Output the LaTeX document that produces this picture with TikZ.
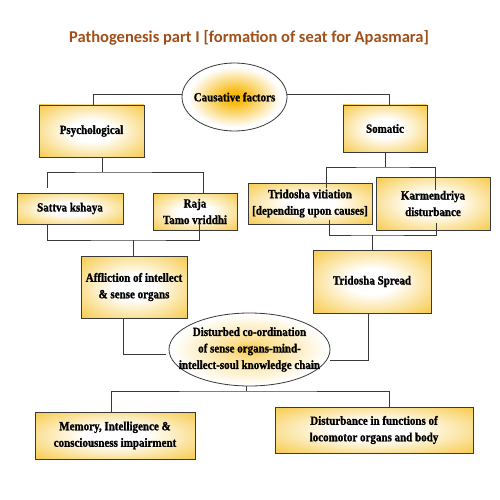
\documentclass[tikz,border=0pt]{standalone}
\usepackage{fontspec}
\setmainfont{Liberation Serif}
\newfontfamily\boxfont{Liberation Serif}[FakeStretch=0.88,FakeBold=1.2]
\newfontfamily\titlefont{Carlito}
\usetikzlibrary{calc,shapes.geometric}
\definecolor{boxgold}{HTML}{F6C12A}
\definecolor{ellgold}{HTML}{F7B500}
\definecolor{titlecol}{HTML}{A2501A}
\definecolor{linecol}{HTML}{3A3A3A}
\pgfdeclareradialshading{boxshade}{\pgfpoint{0bp}{0bp}}{color(0bp)=(white); color(10bp)=(white); color(40bp)=(boxgold); color(50bp)=(boxgold)}
\pgfdeclareradialshading{causeshade}{\pgfpoint{0bp}{0bp}}{color(0bp)=(ellgold); color(5bp)=(ellgold!90!white); color(22bp)=(white); color(50bp)=(white)}
\pgfdeclareradialshading{distshade}{\pgfpoint{0bp}{0bp}}{color(0bp)=(ellgold!75!white); color(6bp)=(ellgold!45!white); color(24bp)=(white); color(50bp)=(white)}
\begin{document}
\begin{tikzpicture}[x=1pt,y=-1pt,
  txt/.style={font=\boxfont\fontsize{12.5}{16.5}\selectfont\bfseries, align=center},
  box/.style={txt, draw=linecol, line width=0.8pt, shade, shading=boxshade, rectangle, inner sep=0pt},
  ell/.style={draw=linecol, line width=0.8pt, ellipse, inner sep=0pt, shade},
  conn/.style={draw=linecol, line width=0.8pt}]
\useasboundingbox (0,0) rectangle (500,500);
\fill[white] (0,0) rectangle (500,500);
\node[font=\titlefont\fontsize{16.5}{20}\selectfont\bfseries, text=titlecol] (title) at (249,38) {Pathogenesis part I [formation of seat for Apasmara]};
% ellipses
\node[ell, shading=causeshade, minimum width=105pt, minimum height=68pt] (cause) at (234.5,97) {};
\node[txt] (causetxt) at (cause) {Causative factors};
\node[ell, shading=distshade, minimum width=161pt, minimum height=73pt] (dist) at (249.5,349.5) {};
\node[txt] (disttxt) at (dist) {Disturbed co-ordination\\of sense organs-mind-\\intellect-soul knowledge chain};
% boxes
\node[box, minimum width=105pt, minimum height=52pt] (psych) at (91.5,131) {Psychological};
\node[box, minimum width=84pt, minimum height=47pt] (somatic) at (385,128.5) {Somatic};
\node[box, minimum width=106pt, minimum height=31pt] (sattva) at (70,208.5) {Sattva kshaya};
\node[box, minimum width=84pt, minimum height=37pt] (raja) at (195,211.5) {Raja\\Tamo vriddhi};
\node[box, minimum width=124pt, minimum height=41pt] (trivit) at (310,203.5) {Tridosha vitiation\\{}[depending upon causes]};
\node[box, minimum width=114pt, minimum height=53pt] (karm) at (433,203.5) {Karmendriya\\disturbance};
\node[box, minimum width=106pt, minimum height=62pt] (afflic) at (134,287) {Affliction of intellect\\\& sense organs};
\node[box, minimum width=118pt, minimum height=63pt] (spread) at (372,281.5) {Tridosha Spread};
\node[box, minimum width=160pt, minimum height=47pt] (memory) at (115,435.5) {Memory, Intelligence \&\\consciousness impairment};
\node[box, minimum width=198pt, minimum height=46pt] (locom) at (374,430) {Disturbance in functions of\\locomotor organs and body};
% connectors
\draw[conn] ($(cause.west)+(0,-3)$) -| ($(psych.north)+(1.5,0)$);
\draw[conn] ($(cause.east)+(0,-3)$) -| ($(somatic.north)+(4,0)$);
\coordinate (j1) at (102,172);
\draw[conn] (psych.south -| j1) -- (j1);
\draw[conn] ($(sattva.north)+(-23,-5)$) |- (j1) -| ($(raja.north)+(8,0)$);
\coordinate (j2) at (133,240);
\draw[conn] ($(sattva.south)+(-23,0)$) |- (j2) -| ($(raja.south)+(4,-7)$);
\draw[conn] (j2) -- (afflic.north -| j2);
\coordinate (j3) at (385,167);
\draw[conn] (somatic.south) -- (j3);
\draw[conn] ($(trivit.north)+(16,5)$) |- (j3) -| ($(karm.north)+(2,13)$);
\coordinate (j4) at (372,235);
\draw[conn] ($(trivit.south)+(19,-4)$) |- (j4) -| ($(karm.south)+(3,-7)$);
\draw[conn] (j4) -- (spread.north);
\draw[conn] ($(afflic.south)+(-11,0)$) |- ($(dist.west)+(-3,4.5)$);
\draw[conn] ($(spread.south)+(-4,0)$) |- ($(dist.east)+(0,10.5)$);
\coordinate (j5) at (246,391);
\draw[conn] ($(dist.south)+(-3.5,0)$) -- (j5);
\draw[conn] ($(memory.north)+(-4,0)$) |- (j5) -| ($(locom.north)+(15,0)$);
\end{tikzpicture}
\end{document}
